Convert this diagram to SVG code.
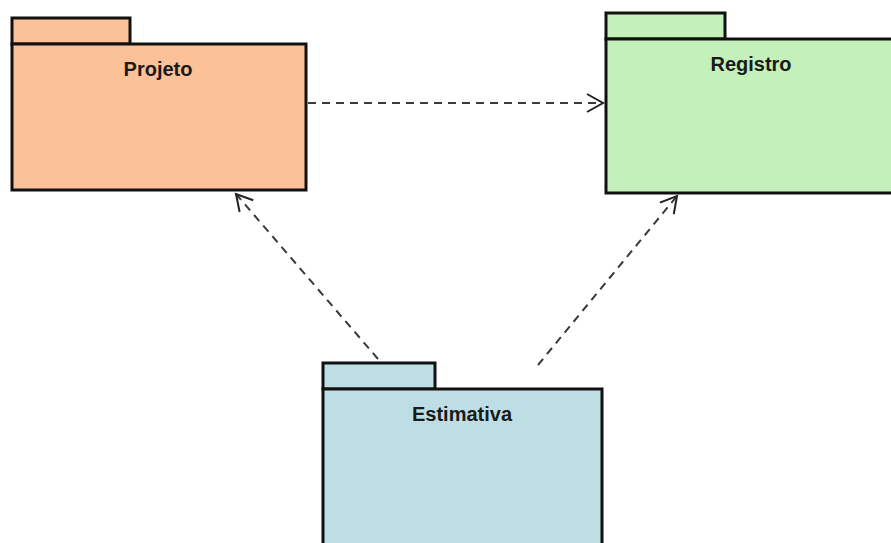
<svg xmlns="http://www.w3.org/2000/svg" width="891" height="543" viewBox="0 0 891 543">
  <style>
    .pkg { stroke: #111; stroke-width: 3; }
    .projeto { fill: #FBC198; }
    .registro { fill: #C4F0B9; }
    .estimativa { fill: #BEDEE5; }
    .label { font-family: "Liberation Sans", Arial, sans-serif; font-weight: bold; font-size: 20px; fill: #1a1a1a; text-anchor: middle; }
    .dep { stroke: #3a3a3a; stroke-width: 2; stroke-dasharray: 8 6; fill: none; }
    .head { stroke: #222; stroke-width: 2; fill: none; }
  </style>
  <defs>
    <marker id="open-arrow" markerUnits="userSpaceOnUse" markerWidth="30" markerHeight="30" viewBox="-20 -15 30 30" refX="0" refY="0" orient="auto" overflow="visible">
      <path class="head" d="M-16,-9 L0,0 L-16,9"/>
    </marker>
  </defs>

  <rect width="891" height="543" fill="#ffffff"/>

  <g id="connectors">
    <line class="dep" x1="308" y1="103" x2="603" y2="103" marker-end="url(#open-arrow)"/>
    <line class="dep" x1="378" y1="359" x2="236" y2="194" marker-end="url(#open-arrow)"/>
    <line class="dep" x1="538" y1="365" x2="677" y2="196" marker-end="url(#open-arrow)"/>
  </g>

  <g id="projeto">
    <rect class="pkg projeto" x="12" y="18" width="118" height="26"/>
    <rect class="pkg projeto" x="12" y="44" width="294" height="146"/>
    <text class="label" x="158" y="76">Projeto</text>
  </g>

  <g id="registro">
    <rect class="pkg registro" x="606" y="13" width="119" height="26"/>
    <rect class="pkg registro" x="606" y="39" width="300" height="154"/>
    <text class="label" x="751" y="71">Registro</text>
  </g>

  <g id="estimativa">
    <rect class="pkg estimativa" x="323" y="363" width="112" height="26"/>
    <rect class="pkg estimativa" x="323" y="389" width="279" height="170"/>
    <text class="label" x="462" y="421">Estimativa</text>
  </g>
</svg>
